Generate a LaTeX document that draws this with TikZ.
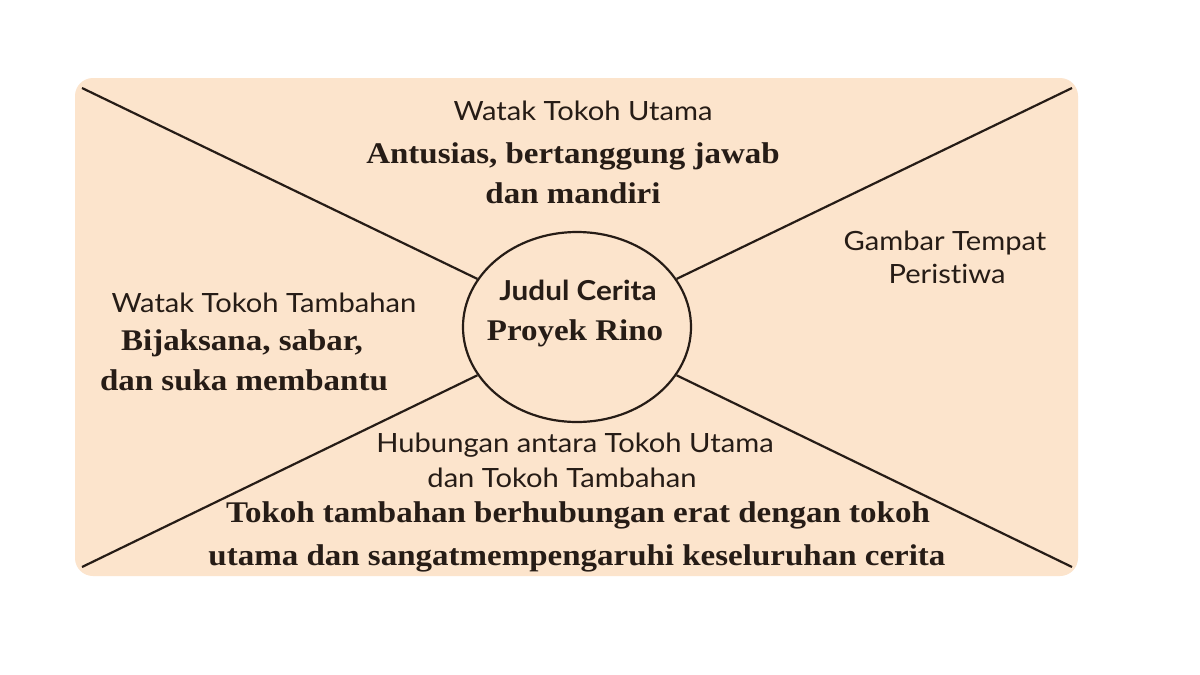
\documentclass[tikz,border=0pt]{standalone}
\usepackage{fontspec}
\setmainfont{Liberation Serif}
\newfontfamily\sansf[FakeStretch=1.1, Ligatures=NoCommon]{Lato}
\newfontfamily\sansm[FakeStretch=1.08, Ligatures=NoCommon]{Lato}
\newfontfamily\serifb[FakeStretch=1.1]{Liberation Serif Bold}
\usetikzlibrary{shapes.geometric}
\definecolor{peach}{RGB}{252,228,204}
\definecolor{ink}{RGB}{38,28,22}
\tikzset{
  lbl/.style={anchor=base, inner sep=0pt, text=ink, font=\sansf\fontsize{26.5}{30}\selectfont},
  ttl/.style={anchor=base, inner sep=0pt, text=ink, font=\sansm\bfseries\fontsize{27.5}{30}\selectfont},
  ans/.style={anchor=base, inner sep=0pt, text=ink, font=\serifb\fontsize{30}{34}\selectfont},
  spoke/.style={draw=ink, line width=2.2pt},
}
\begin{document}
\begin{tikzpicture}[x=1pt, y=-1pt]
\useasboundingbox (0,0) rectangle (1200,675);
\fill[white] (0,0) rectangle (1200,675);
\fill[peach, rounded corners=18pt] (75,78) rectangle (1078,576);
\node[ellipse, draw=ink, line width=2.2pt, minimum width=228pt, minimum height=190pt, inner sep=0pt] (c) at (577,327) {};
\coordinate (tl) at (82,88);
\coordinate (tr) at (1072,88);
\coordinate (bl) at (82,567);
\coordinate (br) at (1072,567);
\draw[spoke] (tl) -- (c);
\draw[spoke] (tr) -- (c);
\draw[spoke] (bl) -- (c);
\draw[spoke] (br) -- (c);
% centre
\node[ttl] (judul) at (578,300) {Judul Cerita};
\node[ans] (rino) at (575,340) {Proyek Rino};
% top
\node[lbl] (wtu) at (583,120) {Watak Tokoh Utama};
\node[ans] (a1) at (573,163) {Antusias, bertanggung jawab};
\node[ans] (a2) at (573,203) {dan mandiri};
% left
\node[lbl] (wtt) at (264,312) {Watak Tokoh Tambahan};
\node[ans] (b1) at (242,350) {Bijaksana, sabar,};
\node[ans] (b2) at (244,390) {dan suka membantu};
% right
\node[lbl] (g1) at (945,250) {Gambar Tempat};
\node[lbl] (g2) at (947,283) {Peristiwa};
% bottom
\node[lbl] (h1) at (575,452) {Hubungan antara Tokoh Utama};
\node[lbl] (h2) at (562,487) {dan Tokoh Tambahan};
\node[ans] (t1) at (578,522) {Tokoh tambahan berhubungan erat dengan tokoh};
\node[ans] (t2) at (577,565) {utama dan sangatmempengaruhi keseluruhan cerita};
\end{tikzpicture}
\end{document}
